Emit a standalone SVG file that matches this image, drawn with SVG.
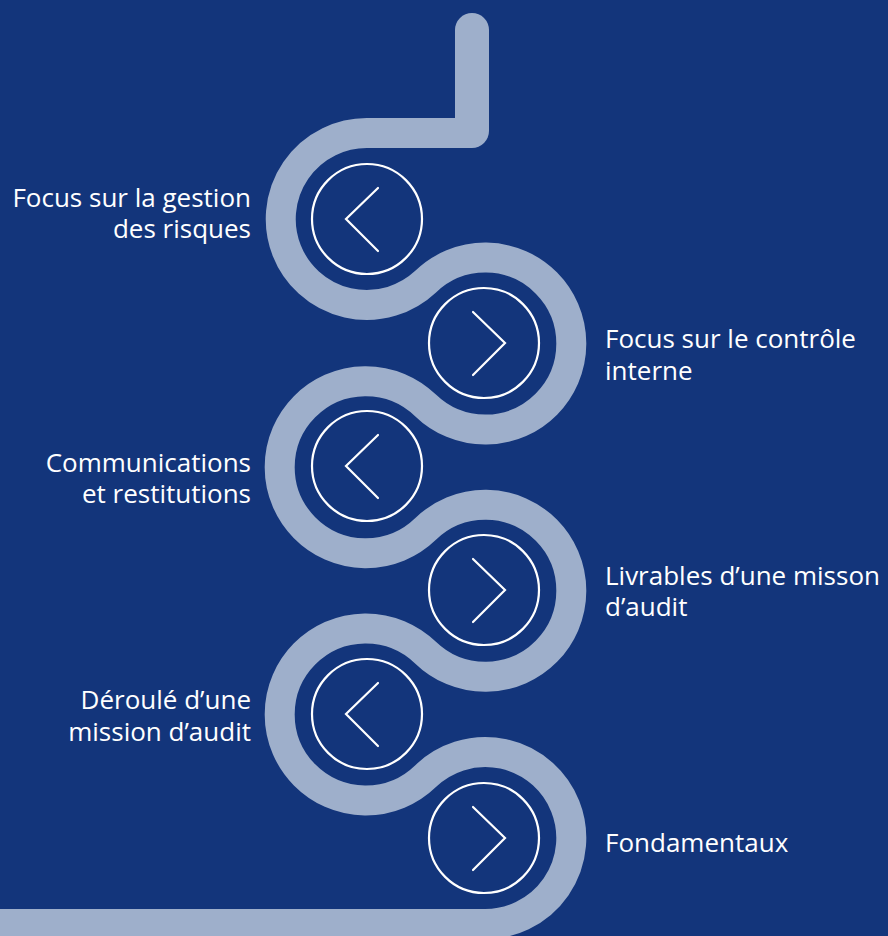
<svg xmlns="http://www.w3.org/2000/svg" width="888" height="936" viewBox="0 0 888 936">
<style>
.band{fill:none;stroke:#9eafcb;stroke-width:30;stroke-linecap:butt;stroke-linejoin:round}
.ring{fill:none;stroke:#ffffff;stroke-width:2.2}
.chev{fill:none;stroke:#ffffff;stroke-width:2.2;stroke-linecap:round;stroke-linejoin:miter}
.lbl{font-family:"Open Sans","Noto Sans","Liberation Sans",sans-serif;font-size:26px;fill:#ffffff}
.l{text-anchor:end}
</style>
<rect width="888" height="936" fill="#13357b"/>
<g id="connectors">
<rect x="455" y="13" width="34" height="135" rx="17" fill="#9eafcb"/>
<path class="band" d="M472 133 L367 133 A86 86 0 1 0 425.5 281.8 A86 86 0 1 1 425.5 405.4 A86 86 0 1 0 425.5 529 A86 86 0 1 1 425.5 652.6 A86 86 0 1 0 425.5 776.2 A86 86 0 1 1 484 924 L-10 924"/>
</g>
<g id="node1">
<circle class="ring" cx="367" cy="219" r="55"/>
<polyline class="chev" points="378,188 346,219 378,251"/>
<text class="lbl l" x="251" y="207">Focus sur la gestion<tspan x="251" dy="31">des risques</tspan></text>
</g>
<g id="node2">
<circle class="ring" cx="484" cy="343" r="55"/>
<polyline class="chev" points="473,312 505,343 473,375"/>
<text class="lbl" x="605" y="348">Focus sur le contrôle<tspan x="605" dy="32">interne</tspan></text>
</g>
<g id="node3">
<circle class="ring" cx="367" cy="466" r="55"/>
<polyline class="chev" points="378,435 346,466 378,498"/>
<text class="lbl l" x="251" y="472">Communications<tspan x="251" dy="31">et restitutions</tspan></text>
</g>
<g id="node4">
<circle class="ring" cx="484" cy="590" r="55"/>
<polyline class="chev" points="473,559 505,590 473,622"/>
<text class="lbl" x="605" y="585">Livrables d’une misson<tspan x="605" dy="31">d’audit</tspan></text>
</g>
<g id="node5">
<circle class="ring" cx="367" cy="714" r="55"/>
<polyline class="chev" points="378,683 346,714 378,746"/>
<text class="lbl l" x="251" y="709">Déroulé d’une<tspan x="251" dy="32">mission d’audit</tspan></text>
</g>
<g id="node6">
<circle class="ring" cx="484" cy="838" r="55"/>
<polyline class="chev" points="473,807 505,838 473,870"/>
<text class="lbl" x="605" y="852">Fondamentaux</text>
</g>
</svg>
